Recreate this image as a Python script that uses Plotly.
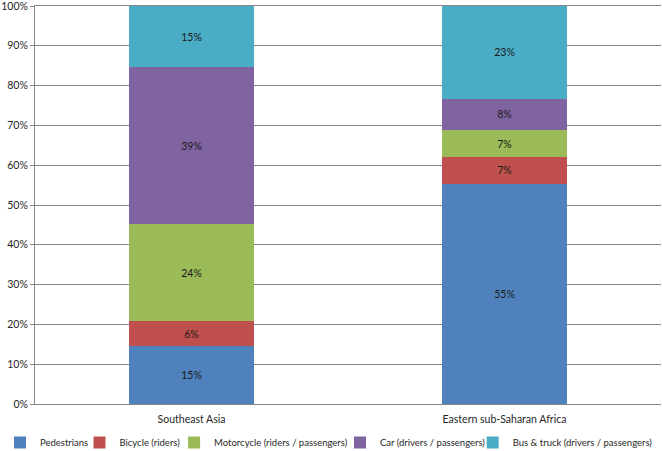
import plotly.graph_objects as go

categories = ["Southeast Asia", "Eastern sub-Saharan Africa"]
series_names = [
    "Pedestrians",
    "Bicycle (riders)",
    "Motorcycle (riders / passengers)",
    "Car (drivers / passengers)",
    "Bus & truck (drivers / passengers)",
]
pedestrians = [14.6, 55.4]
bicycle = [6.2, 6.6]
motorcycle = [24.4, 6.8]
car = [39.4, 7.9]
bus_truck = [15.4, 23.3]
colors = ["#4F81BD", "#C0504D", "#9BBB59", "#8064A2", "#4BACC6"]
y_ticks = [0, 10, 20, 30, 40, 50, 60, 70, 80, 90, 100]

series_values = [pedestrians, bicycle, motorcycle, car, bus_truck]

FONT = "Lato, Open Sans, sans-serif"
W, H = 662, 451
ML, MR, MT, MB = 35, 1, 6, 47
plot_w = W - ML - MR
plot_h = H - MT - MB

# approximate legend text widths (px) used only for spacing the legend entries
legend_text_w = [48.5, 63.6, 134.9, 101.7, 144.4]
legend_lefts = []
pos = 0.0
for tw in legend_text_w:
    legend_lefts.append(pos)
    pos += 26 + tw + 5

fig = go.Figure()
layout_legends = {}
for i, (name, vals, col) in enumerate(zip(series_names, series_values, colors)):
    lname = "legend" if i == 0 else f"legend{i+1}"
    fig.add_trace(go.Bar(
        x=categories, y=vals, name=name,
        marker=dict(color=col, line=dict(width=0)),
        texttemplate="%{y:.0f}%", textposition="inside",
        insidetextanchor="middle",
        textfont=dict(color="#1a1a1a", size=10.5, family=FONT),
        legend=lname,
    ))
    layout_legends[lname] = dict(
        x=(legend_lefts[i] - ML) / plot_w, xanchor="left",
        y=-(428 - (MT + plot_h)) / plot_h, yanchor="top",
        font=dict(size=9.5, color="#262626", family=FONT),
        bgcolor="rgba(0,0,0,0)", itemclick=False, itemdoubleclick=False,
    )

fig.update_layout(
    barmode="stack",
    bargap=0.6,
    width=W, height=H,
    margin=dict(l=ML, r=MR, t=MT, b=MB, autoexpand=False),
    paper_bgcolor="white", plot_bgcolor="white",
    font=dict(family=FONT, size=10.5, color="#262626"),
    showlegend=True,
    uniformtext=dict(mode="show", minsize=8),
    **layout_legends,
)
fig.update_yaxes(
    range=[0, 100], tickvals=y_ticks, ticktext=[f"{v}%" for v in y_ticks],
    showgrid=True, gridcolor="#878787", gridwidth=1,
    showline=True, linecolor="#878787", ticks="outside", ticklen=4, tickcolor="#878787",
    tickfont=dict(size=10.5, color="#262626", family=FONT), zeroline=False,
    ticklabeloverflow="allow",
)
fig.update_xaxes(
    showline=True, linecolor="#878787", mirror=True,
    ticks="outside", ticklen=5, tickcolor="rgba(0,0,0,0)",
    tickfont=dict(size=10.5, color="#262626", family=FONT),
)

fig.write_html(
    "out.html",
    config={"displayModeBar": False},
    post_script="document.body.style.margin='0px';document.body.style.padding='0px';",
)
